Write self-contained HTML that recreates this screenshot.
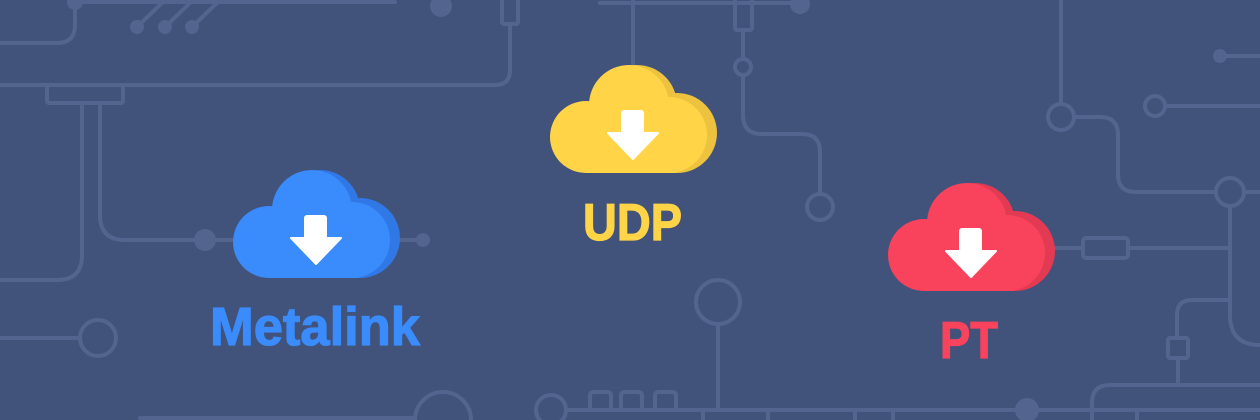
<!DOCTYPE html>
<html><head><meta charset="utf-8"><style>
html,body{margin:0;padding:0;background:#41527b;overflow:hidden;width:1260px;height:420px;}
svg{display:block;overflow:hidden}
text{font-family:"Liberation Sans",sans-serif;font-weight:bold;}
</style></head><body>
<svg width="1260" height="420" viewBox="0 0 1260 420" xmlns="http://www.w3.org/2000/svg" overflow="hidden">
<g fill="none" stroke="#53648f" stroke-width="4" stroke-linecap="round">
  <path d="M75 2 H395"/>
  <path d="M75 0 V25 Q75 43 57 43 H0"/>
  <path d="M137 27 L165 0 M165 27 L193 0 M192 27 L220 0"/>
  <path d="M0 85 H495 Q510 85 510 70 V24"/>
  <rect x="502" y="-4" width="16" height="28" rx="2"/>
  <rect x="47" y="85" width="76" height="18" rx="2"/>
  <path d="M82 103 V255 Q82 280 57 280 H0"/>
  <path d="M100 103 V215 Q100 240 125 240 H232"/>
  <path d="M400 240 H423"/>
  <path d="M0 338 H80"/>
  <circle cx="98" cy="338" r="18"/>
  <circle cx="443" cy="420" r="28"/>
  <path d="M140 418 H415"/>
  <path d="M600 3 H800"/>
  <rect x="735" y="-4" width="17" height="34" rx="2"/>
  <path d="M633 0 V66"/>
  <path d="M743 30 V59"/>
  <circle cx="743" cy="67" r="8"/>
  <path d="M743 75 V115 Q743 134 762 134 H802 Q820 134 820 152 V193"/>
  <circle cx="820" cy="207" r="13"/>
  <path d="M1061 0 V103"/>
  <circle cx="1061" cy="117" r="13"/>
  <path d="M1074 117 H1100 Q1118 117 1118 135 V175 Q1118 192 1136 192 H1216"/>
  <circle cx="1230" cy="192" r="14"/>
  <path d="M1244 192 H1260"/>
  <path d="M1220 56 H1260"/>
  <circle cx="1155" cy="106" r="10"/>
  <path d="M1165 106 H1260"/>
  <path d="M1050 248 H1083"/>
  <rect x="1083" y="238" width="45" height="20" rx="3"/>
  <path d="M1128 248 H1230"/>
  <path d="M1230 206 V315 Q1230 345 1260 345"/>
  <path d="M1230 300 H1192 Q1177 300 1177 315 V338"/>
  <rect x="1168" y="338" width="20" height="20" rx="2"/>
  <path d="M1178 358 V385"/>
  <path d="M1260 385 H1110 Q1092 385 1092 403 V420"/>
  <path d="M566 410 H1260"/>
  <circle cx="551" cy="410" r="15"/>
  <path d="M590 410 V396 Q590 392 594 392 H607 Q611 392 611 396 V410"/>
  <path d="M621 410 V396 Q621 392 625 392 H638 Q642 392 642 396 V410"/>
  <path d="M655 410 V396 Q655 392 659 392 H672 Q676 392 676 396 V410"/>
  <circle cx="718" cy="302" r="22"/>
  <path d="M718 324 V410"/>
  <path d="M703 410 V420 M768 410 V420 M855 410 V420 M893 410 V420 M1137 410 V420"/>
</g>
<g fill="#53648f">
  <circle cx="75" cy="2" r="8"/>
  <circle cx="137" cy="27" r="7"/><circle cx="165" cy="27" r="7"/><circle cx="192" cy="27" r="7"/>
  <circle cx="441" cy="6" r="11"/>
  <circle cx="205" cy="240" r="11"/>
  <circle cx="423" cy="240" r="7"/>
  <circle cx="800" cy="4" r="10"/>
  <circle cx="1220" cy="56" r="7"/>
  <circle cx="1027" cy="410" r="12"/>
</g>

<g transform="translate(232,170)">
  <g fill="#2f78e6"><circle cx="88" cy="40" r="40"/><circle cx="128" cy="68" r="40"/><rect x="40" y="60" width="96" height="48" rx="10"/></g>
  <g fill="#3a8bfb"><circle cx="37" cy="72" r="36"/><circle cx="80" cy="40" r="40"/><circle cx="120" cy="70" r="38"/><rect x="37" y="60" width="90" height="48"/></g>
  <rect x="72" y="45" width="23" height="26" rx="3" fill="#fff"/>
  <path d="M59 68 L109 68 L84 94 Z" fill="#fff" stroke="#fff" stroke-width="2" stroke-linejoin="round"/>
</g>
<g transform="translate(549,65)">
  <g fill="#ecc23e"><circle cx="88" cy="40" r="40"/><circle cx="128" cy="68" r="40"/><rect x="40" y="60" width="96" height="48" rx="10"/></g>
  <g fill="#ffd447"><circle cx="37" cy="72" r="36"/><circle cx="80" cy="40" r="40"/><circle cx="120" cy="70" r="38"/><rect x="37" y="60" width="90" height="48"/></g>
  <rect x="72" y="45" width="23" height="26" rx="3" fill="#fff"/>
  <path d="M59 68 L109 68 L84 94 Z" fill="#fff" stroke="#fff" stroke-width="2" stroke-linejoin="round"/>
</g>
<g transform="translate(887,183)">
  <g fill="#e23a53"><circle cx="88" cy="40" r="40"/><circle cx="128" cy="68" r="40"/><rect x="40" y="60" width="96" height="48" rx="10"/></g>
  <g fill="#f9435c"><circle cx="37" cy="72" r="36"/><circle cx="80" cy="40" r="40"/><circle cx="120" cy="70" r="38"/><rect x="37" y="60" width="90" height="48"/></g>
  <rect x="72" y="45" width="23" height="26" rx="3" fill="#fff"/>
  <path d="M59 68 L109 68 L84 94 Z" fill="#fff" stroke="#fff" stroke-width="2" stroke-linejoin="round"/>
</g>

<text x="210" y="345" font-size="54" fill="#3a8bfb" stroke="#3a8bfb" stroke-width="1.2" textLength="210" lengthAdjust="spacingAndGlyphs">Metalink</text>
<text x="583" y="240" font-size="52" fill="#ffd447" stroke="#ffd447" stroke-width="1.2" textLength="99" lengthAdjust="spacingAndGlyphs">UDP</text>
<text x="940" y="358" font-size="52" fill="#f9435c" stroke="#f9435c" stroke-width="1.2" textLength="58" lengthAdjust="spacingAndGlyphs">PT</text>
</svg>
</body></html>
